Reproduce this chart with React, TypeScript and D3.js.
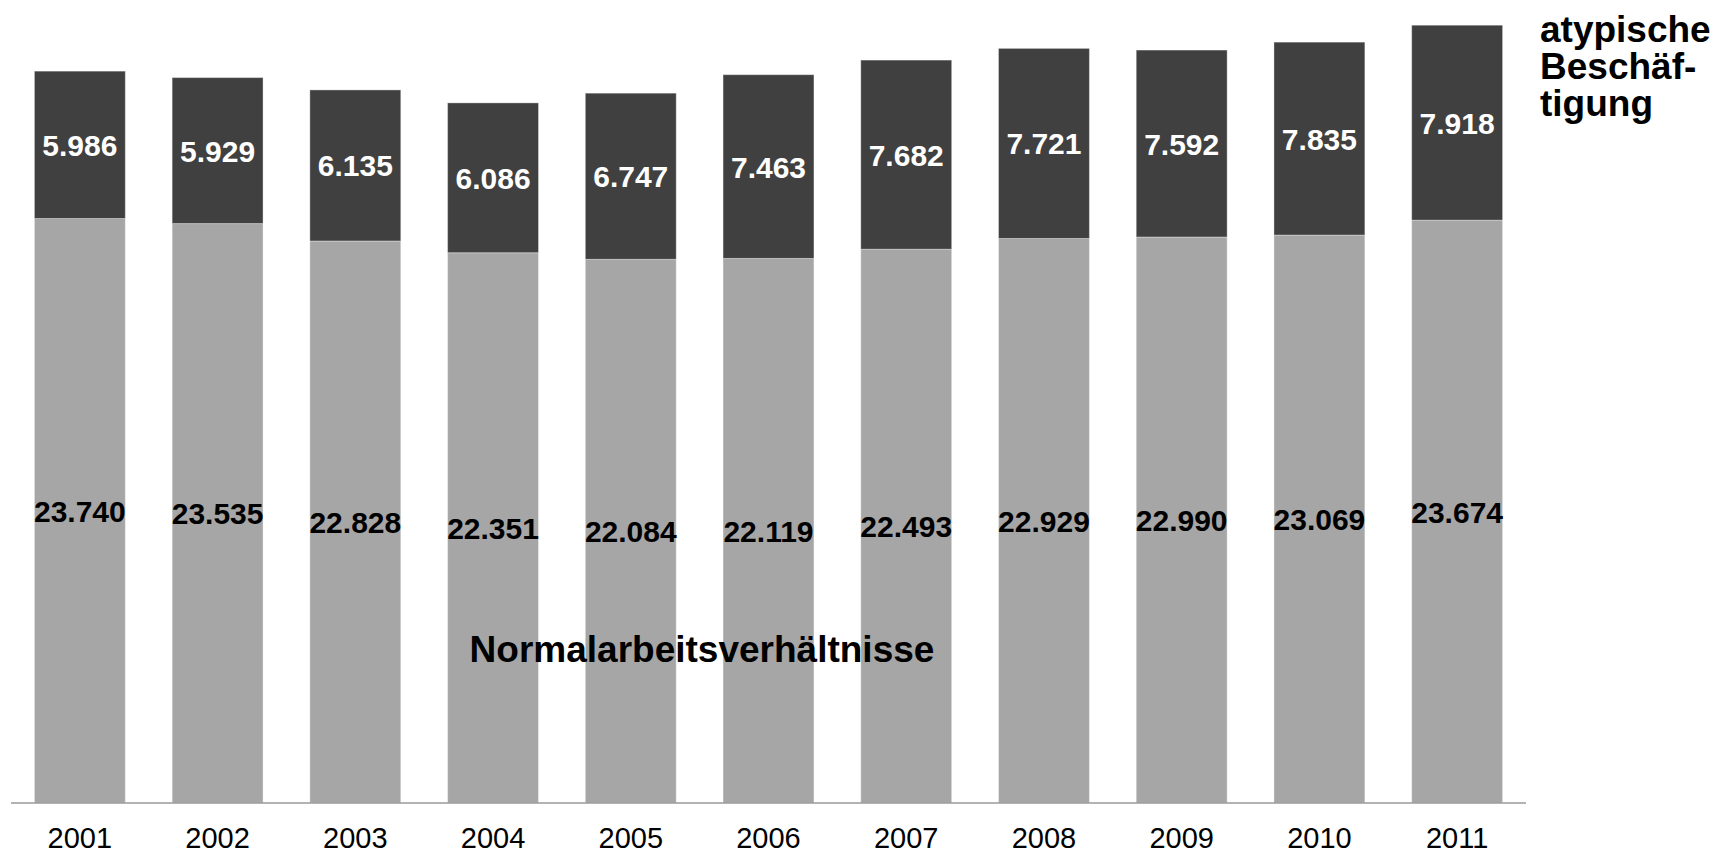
import { useEffect, useRef } from "react";
import * as d3 from "d3";

const years = ["2001", "2002", "2003", "2004", "2005", "2006", "2007", "2008", "2009", "2010", "2011"];
const normal = [23740, 23535, 22828, 22351, 22084, 22119, 22493, 22929, 22990, 23069, 23674];
const atypical = [5986, 5929, 6135, 6086, 6747, 7463, 7682, 7721, 7592, 7835, 7918];
const legendLines = ["atypische", "Beschäf-", "tigung"];
const normalLabel = "Normalarbeitsverhältnisse";

const W = 1715;
const H = 854;
const FONT = "'Liberation Sans', Arial, sans-serif";

const fmt = (v: number) => d3.format(",")(v).replace(/,/g, ".");

const App = () => {
  const svgRef = useRef(null);

  useEffect(() => {
    if (!svgRef.current) return;
    const svg = d3.select(svgRef.current);
    svg.selectAll("*").remove();

    const rows = years.map((y, i) => ({ year: y, normal: normal[i], atypical: atypical[i] }));
    const series = d3.stack<any>().keys(["normal", "atypical"])(rows);

    const x = d3.scaleBand().domain(years).range([11, 1526]).paddingInner(0.34).paddingOuter(0.17);
    const y = d3.scaleLinear().domain([0, 32000]).range([803, 803 - 32000 * 0.02462]);

    const fills: Record<string, string> = { normal: "#a6a6a6", atypical: "#404040" };
    const textFill: Record<string, string> = { normal: "#000", atypical: "#fff" };

    series.forEach((s) => {
      const g = svg.append("g");
      g.selectAll("rect")
        .data(s)
        .join("rect")
        .attr("x", (d: any) => x(d.data.year)!)
        .attr("width", x.bandwidth())
        .attr("y", (d) => y(d[1]))
        .attr("height", (d) => y(d[0]) - y(d[1]))
        .attr("fill", fills[s.key])
        .attr("stroke", "rgba(255,255,255,0.35)")
        .attr("stroke-width", 1);

      g.selectAll("text")
        .data(s)
        .join("text")
        .attr("x", (d: any) => x(d.data.year)! + x.bandwidth() / 2)
        .attr("y", (d) => (y(d[0]) + y(d[1])) / 2 + 11)
        .attr("text-anchor", "middle")
        .attr("font-family", FONT)
        .attr("font-weight", "bold")
        .attr("font-size", 30)
        .attr("fill", textFill[s.key])
        .text((d: any) => fmt(d.data[s.key]));
    });

    // baseline
    svg.append("line")
      .attr("x1", 11)
      .attr("x2", 1526)
      .attr("y1", 803)
      .attr("y2", 803)
      .attr("stroke", "#9a9a9a")
      .attr("stroke-width", 1.5);

    // year labels
    svg.append("g")
      .selectAll("text")
      .data(years)
      .join("text")
      .attr("x", (d) => x(d)! + x.bandwidth() / 2)
      .attr("y", 848)
      .attr("text-anchor", "middle")
      .attr("font-family", FONT)
      .attr("font-size", 29)
      .attr("fill", "#000")
      .text((d) => d);

    // series labels
    svg.append("text")
      .attr("x", 702)
      .attr("y", 662)
      .attr("text-anchor", "middle")
      .attr("font-family", FONT)
      .attr("font-weight", "bold")
      .attr("font-size", 37)
      .text(normalLabel);

    svg.append("g")
      .selectAll("text")
      .data(legendLines)
      .join("text")
      .attr("x", 1540)
      .attr("y", (_, i) => 42 + i * 37)
      .attr("font-family", FONT)
      .attr("font-weight", "bold")
      .attr("font-size", 37)
      .text((d) => d);
  }, []);

  return (
    <svg
      ref={svgRef}
      width={W}
      height={H}
      style={{ position: "absolute", left: 0, top: 0, background: "#fff" }}
    />
  );
};

export default App;
